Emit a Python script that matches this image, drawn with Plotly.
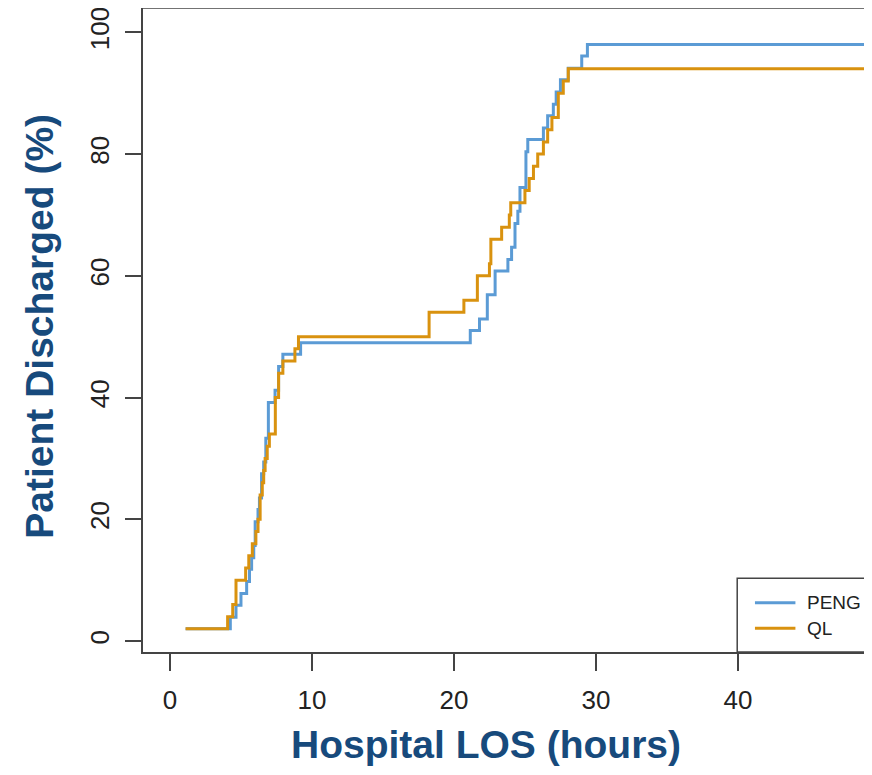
import plotly.graph_objects as go

# Step curves: time (hours) at which each step occurs and the cumulative % discharged after it
peng_time = [1.1, 4.25, 4.65, 5.0, 5.4, 5.6, 5.75, 5.9, 6.0, 6.2, 6.3, 6.45, 6.6, 6.75, 6.93,
             7.4, 7.65, 7.95, 9.2, 21.15, 21.8, 22.35, 22.9, 23.8, 24.06, 24.3, 24.5, 24.65,
             25.07, 25.2, 26.3, 26.6, 27.0, 27.2, 27.5, 28.05, 29.0, 29.4, 75.0]
peng_pct = [2.0, 3.9, 5.9, 7.8, 9.8, 11.8, 13.7, 15.7, 19.6, 21.6, 23.5, 27.5, 29.4, 33.3, 39.2,
            41.2, 45.1, 47.1, 49.0, 51.0, 52.9, 56.9, 60.8, 62.7, 64.7, 68.6, 70.6, 74.5,
            80.4, 82.4, 84.3, 86.3, 88.2, 90.2, 92.2, 94.1, 96.1, 98.0, 98.0]

ql_time = [1.1, 4.06, 4.42, 4.65, 5.33, 5.55, 5.8, 6.05, 6.2, 6.35, 6.5, 6.6, 6.7, 6.85, 7.0,
           7.42, 7.65, 7.95, 8.8, 9.05, 18.25, 20.7, 21.65, 22.5, 22.6, 23.36, 23.9, 24.0,
           25.0, 25.3, 25.6, 25.9, 26.3, 26.6, 26.9, 27.35, 27.7, 28.05, 75.0]
ql_pct = [2, 4, 6, 10, 12, 14, 16, 18, 20, 24, 26, 28, 30, 32, 34,
          40, 44, 46, 48, 50, 54, 56, 60, 62, 66, 68, 70, 72,
          74, 76, 78, 80, 82, 84, 86, 90, 92, 94, 94]

series_names = ["PENG", "QL"]
series_colors = ["#5B9BD5", "#D9920F"]
x_ticks = [0, 10, 20, 30, 40]
y_ticks = [0, 20, 40, 60, 80, 100]

TITLE_BLUE = "#174A7C"
AXIS_COL = "#444444"
FONT = "Liberation Sans, Arial, sans-serif"
TICK_FONT = "Liberation Sans Narrow, Arial Narrow, Liberation Sans, sans-serif"

fig = go.Figure()
fig.add_trace(go.Scatter(x=peng_time, y=peng_pct, mode="lines", name=series_names[0],
                         line=dict(color=series_colors[0], width=3, shape="hv")))
fig.add_trace(go.Scatter(x=ql_time, y=ql_pct, mode="lines", name=series_names[1],
                         line=dict(color=series_colors[1], width=3, shape="hv")))

fig.update_layout(
    width=856, height=759,
    margin=dict(l=135, r=0, t=0, b=115),
    paper_bgcolor="white", plot_bgcolor="white",
    showlegend=False,
    font=dict(family=FONT, size=20, color="#222222"),
)
fig.update_xaxes(
    range=[-1.90, 48.88], tickvals=x_ticks, ticktext=[str(v) for v in x_ticks],
    showgrid=False, zeroline=False, showline=True, linecolor=AXIS_COL, linewidth=1.5,
    ticks="outside", ticklen=17, tickwidth=1.5, tickcolor=AXIS_COL,
    ticklabelstandoff=7, ticklabeloverflow="allow",
    tickfont=dict(family=TICK_FONT, size=26, color="#222222"),
)
fig.update_yaxes(
    range=[-1.8, 104.0], tickvals=y_ticks, ticktext=[str(v) for v in y_ticks],
    tickangle=-90,
    showgrid=False, zeroline=False, showline=True, linecolor=AXIS_COL, linewidth=1.5,
    ticks="outside", ticklen=16, tickwidth=1.5, tickcolor=AXIS_COL,
    ticklabelstandoff=6, ticklabeloverflow="allow",
    tickfont=dict(family=TICK_FONT, size=26, color="#222222"),
)

# axis titles (positioned to match the reference, in plot-area fractions)
fig.add_annotation(x=0.4755, y=-0.1444, xref="paper", yref="paper",
                   text="<b>Hospital LOS (hours)</b>", showarrow=False,
                   xanchor="center", yanchor="middle",
                   font=dict(family=FONT, size=39, color=TITLE_BLUE))
fig.add_annotation(x=-0.1431, y=0.5064, xref="paper", yref="paper",
                   text="<b>Patient Discharged (%)</b>", showarrow=False, textangle=-90,
                   xanchor="center", yanchor="middle",
                   font=dict(family=FONT, size=39, color=TITLE_BLUE))

# top frame line (right side of the frame lies outside the visible picture)
fig.add_shape(type="line", xref="paper", yref="paper", x0=0, x1=1.01, y0=1, y1=1,
              line=dict(color=AXIS_COL, width=1.5))

# legend box (cut off at the right edge, like the reference)
fig.add_shape(type="rect", xref="x", yref="y", x0=39.95, x1=60, y0=-1.8, y1=10.3,
              line=dict(color=AXIS_COL, width=1.5), fillcolor="rgba(0,0,0,0)")
leg_y = [6.3, 2.1]
for name, col, yy in zip(series_names, series_colors, leg_y):
    fig.add_shape(type="line", xref="x", yref="y", x0=41.2, x1=44.05, y0=yy, y1=yy,
                  line=dict(color=col, width=3))
    fig.add_annotation(x=44.75, y=yy, xref="x", yref="y", text=name, showarrow=False,
                       xanchor="left", yanchor="middle",
                       font=dict(family=FONT, size=19, color="#222222"))

fig.write_html("out.html")
